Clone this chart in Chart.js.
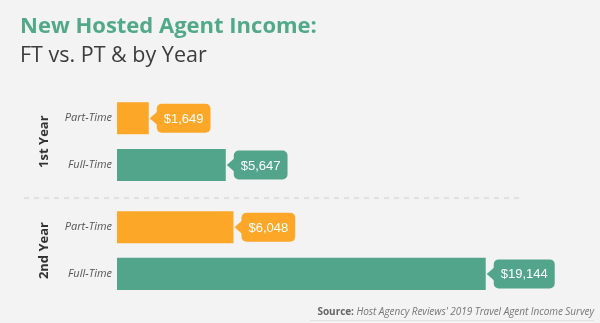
<!DOCTYPE html>
<html>
<head>
<meta charset="utf-8">
<script src="https://cdn.jsdelivr.net/npm/chart.js@4"></script>
<style>
	html, body { margin: 0; padding: 0; background: #f3f3f3; }
	#wrap { position: relative; width: 600px; height: 323px; }
	#source {
		position: absolute; right: 6px; top: 304px;
		font: italic 10px "Open Sans", sans-serif; color: #777;
		border-bottom: 1px solid #e2e2e2; padding: 0 0 2px 8px;
		letter-spacing: -0.05px;
	}
	#source b { font-style: normal; color: #666; }
</style>
</head>
<body>
<div id="wrap">
	<canvas id="incomeChart" width="600" height="323"></canvas>
	<div id="source"><b>Source:</b> Host Agency Reviews' 2019 Travel Agent Income Survey</div>
</div>
<script>
const years = ['1st Year', '2nd Year'];
const partTime = [1649, 6048];
const fullTime = [5647, 19144];
const seriesNames = ['Part-Time', 'Full-Time'];

const ORANGE = '#fca728';
const GREEN = '#52a58a';

const fmt = v => '$' + v.toLocaleString('en-US');

// callouts, bar labels, year labels, separator
const decorations = {
	id: 'decorations',
	afterDatasetsDraw(chart) {
		const ctx = chart.ctx;
		const area = chart.chartArea;
		const yScale = chart.scales.y;
		ctx.save();

		// dashed separator between the years
		const mid = (yScale.getPixelForValue(0) + yScale.getPixelForValue(1)) / 2 + 2;
		ctx.strokeStyle = '#e0e0e0';
		ctx.lineWidth = 2;
		ctx.setLineDash([5, 5]);
		ctx.beginPath();
		ctx.moveTo(24, mid);
		ctx.lineTo(519, mid);
		ctx.stroke();
		ctx.setLineDash([]);

		chart.data.datasets.forEach((ds, di) => {
			const meta = chart.getDatasetMeta(di);
			meta.data.forEach((bar, i) => {
				// series label left of bar
				ctx.font = 'italic 11px "Open Sans"';
				ctx.fillStyle = '#555';
				ctx.textAlign = 'right';
				ctx.textBaseline = 'middle';
				ctx.fillText(ds.label, area.left - 5, bar.y);

				// callout
				const text = fmt(ds.data[i]);
				ctx.font = '13px "Liberation Sans"';
				const w = ctx.measureText(text).width + 14;
				const h = 29;
				const x0 = bar.x + 8;
				const y0 = bar.y - h / 2;
				ctx.fillStyle = ds.backgroundColor;
				ctx.beginPath();
				ctx.roundRect(x0, y0, w, h, 5);
				ctx.fill();
				ctx.beginPath();
				ctx.moveTo(bar.x + 1, bar.y);
				ctx.lineTo(x0 + 1, bar.y - 7);
				ctx.lineTo(x0 + 1, bar.y + 7);
				ctx.closePath();
				ctx.fill();
				ctx.fillStyle = '#fff';
				ctx.textAlign = 'left';
				ctx.fillText(text, x0 + 7, bar.y + 1);
			});
		});

		// year labels, rotated
		ctx.font = 'bold 13px "Open Sans"';
		ctx.fillStyle = '#333';
		ctx.textAlign = 'center';
		ctx.textBaseline = 'middle';
		years.forEach((yr, i) => {
			ctx.save();
			ctx.translate(44, yScale.getPixelForValue(i));
			ctx.rotate(-Math.PI / 2);
			ctx.fillText(yr, 0, 0);
			ctx.restore();
		});
		ctx.restore();
	}
};

new Chart(document.getElementById('incomeChart'), {
	type: 'bar',
	data: {
		labels: years,
		datasets: [
			{ label: seriesNames[0], data: partTime, backgroundColor: ORANGE },
			{ label: seriesNames[1], data: fullTime, backgroundColor: GREEN }
		]
	},
	options: {
		indexAxis: 'y',
		responsive: false,
		animation: false,
		categoryPercentage: 0.857,
		barPercentage: 0.688,
		layout: { padding: { left: 20, right: 40, top: 0, bottom: 18 } },
		scales: {
			x: { display: false, min: 0, max: 23000 },
			y: {
				ticks: { display: false },
				grid: { display: false },
				border: { display: false },
				afterFit: s => { s.width = 97; }
			}
		},
		plugins: {
			legend: { display: false },
			tooltip: { enabled: false },
			title: {
				display: true,
				align: 'start',
				text: 'New Hosted Agent Income:',
				color: '#52a98a',
				font: { family: 'Open Sans', size: 22, weight: 'bold', lineHeight: 1.2 },
				padding: { top: 14, bottom: 2 }
			},
			subtitle: {
				display: true,
				align: 'start',
				text: 'FT vs. PT & by Year',
				color: '#3d3d3d',
				font: { family: 'Open Sans', size: 21.5, weight: 'normal', lineHeight: 1.2 },
				padding: { top: 1, bottom: 18 }
			}
		}
	},
	plugins: [decorations]
});
</script>
</body>
</html>
